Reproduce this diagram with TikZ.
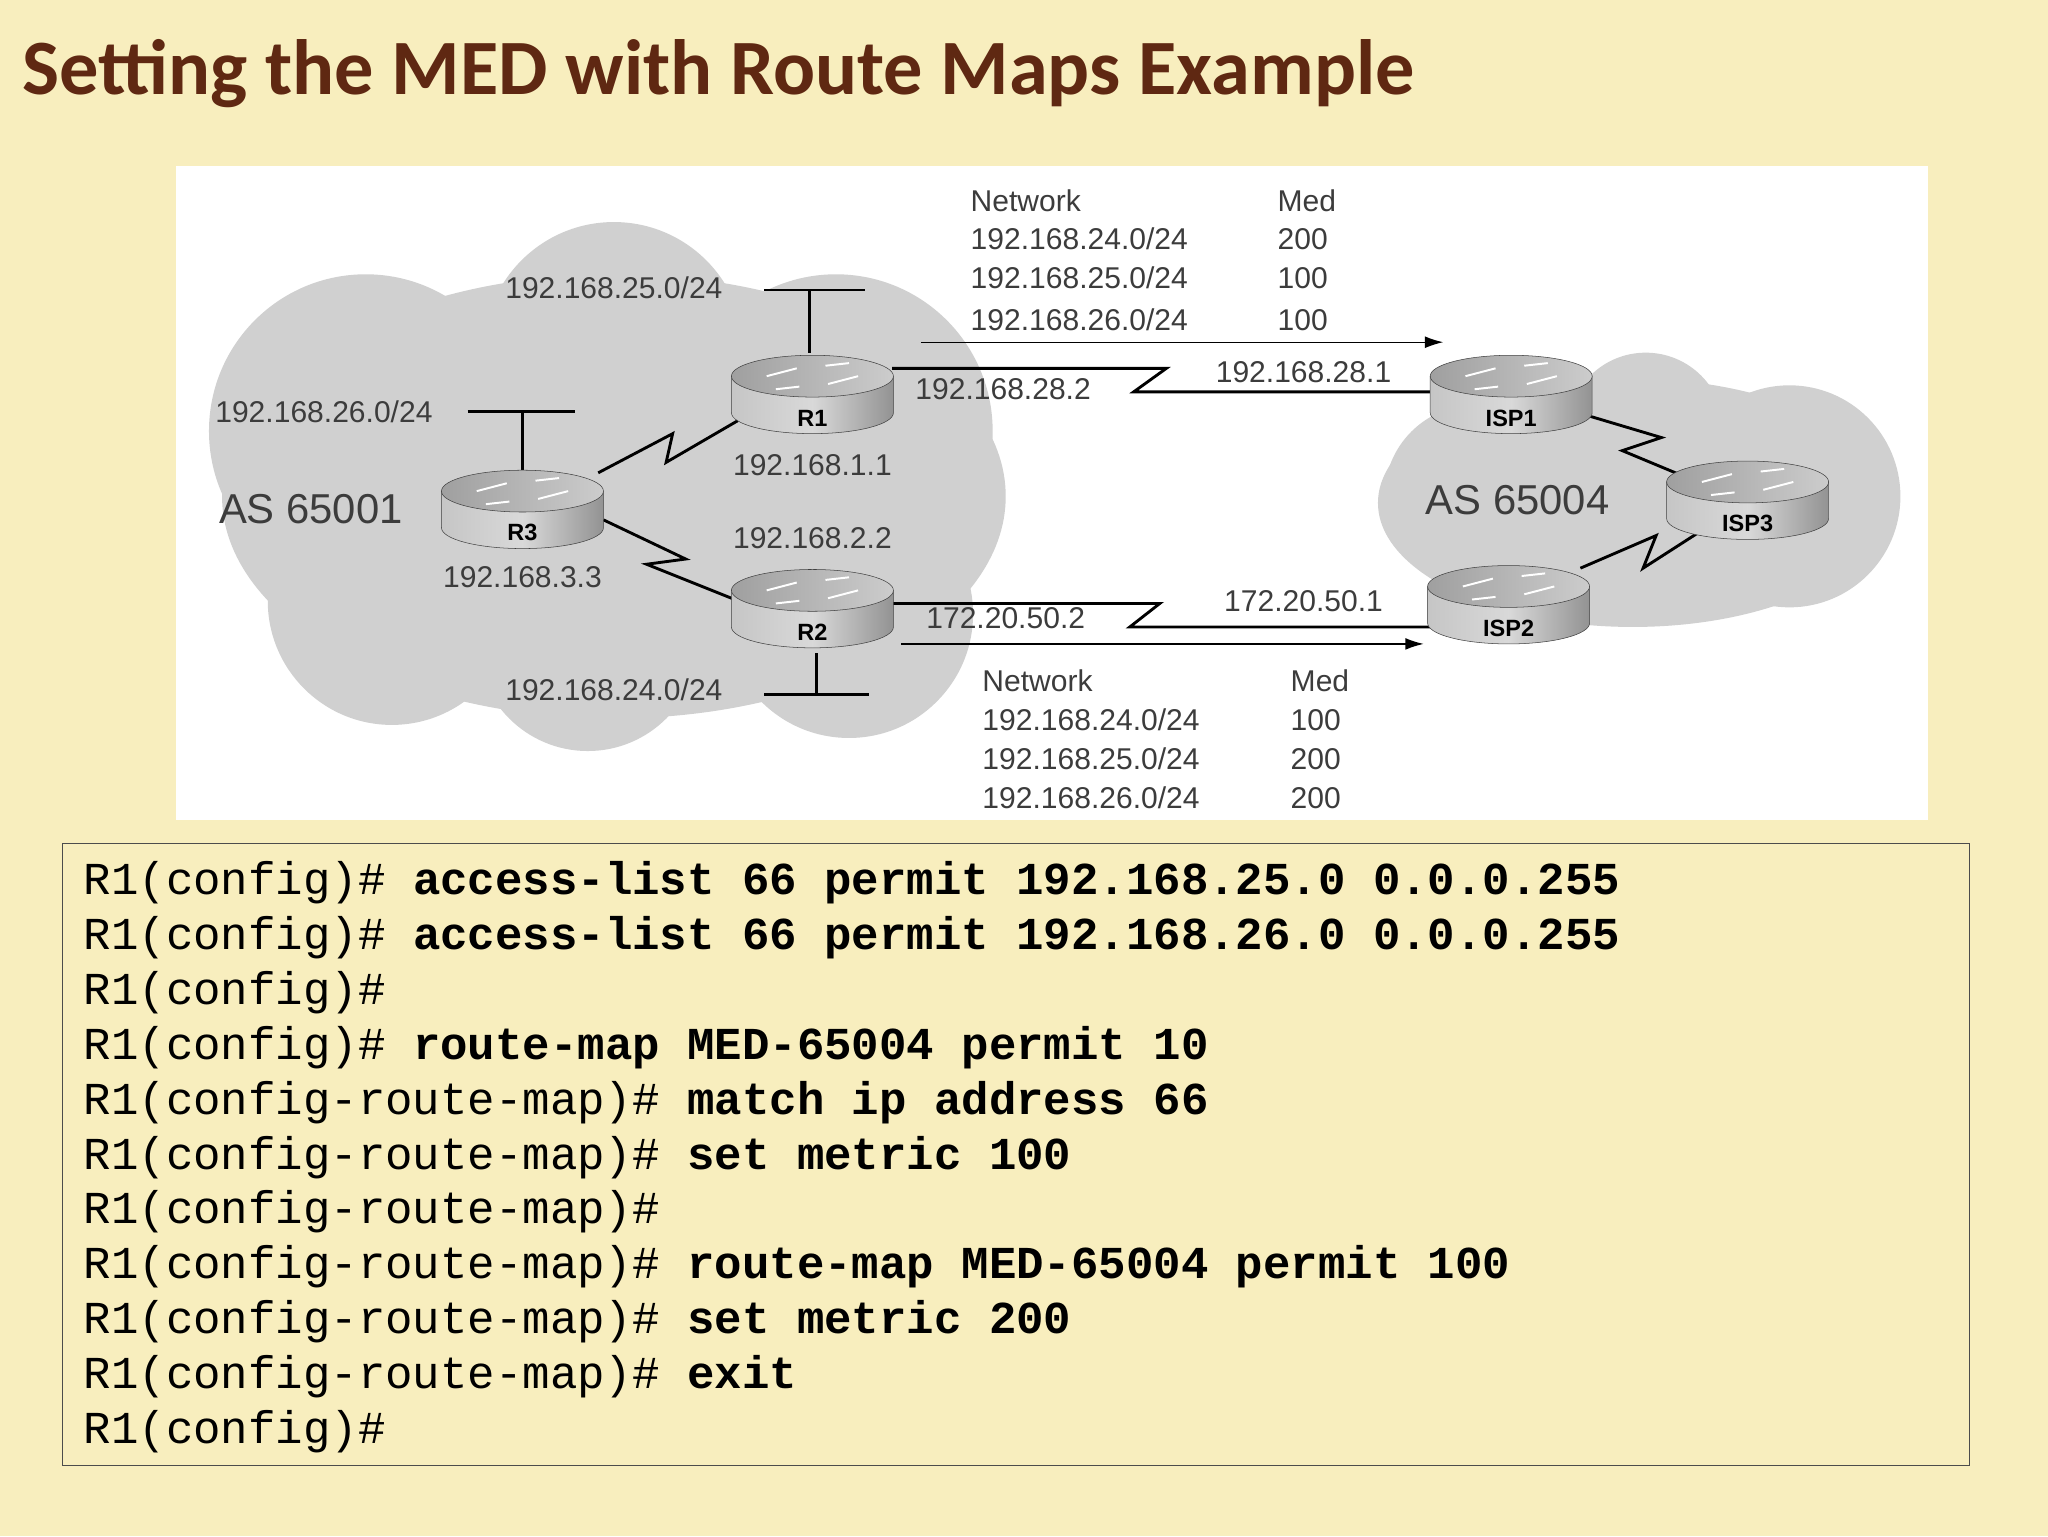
\documentclass[tikz,border=0pt]{standalone}
\usepackage{fontspec}
\setmainfont{Liberation Sans}
\newfontfamily\ttf{Liberation Mono}
\newfontfamily\tit{Carlito}
\usetikzlibrary{shapes.geometric,arrows.meta}
\definecolor{bg}{RGB}{248,238,190}
\definecolor{cl}{RGB}{208,208,208}
\definecolor{tt}{RGB}{95,40,18}
\definecolor{lbl}{RGB}{60,60,60}
\newcommand\myrtr[4]{%
 \shade[left color=gray!45,right color=gray!85,middle color=gray!30,draw=gray!50!black] (#2-62,#3-12) -- (#2-62,#3+16) arc[start angle=180,end angle=0,x radius=62,y radius=16] -- (#2+62,#3-12) -- cycle;
 \shade[left color=gray!75,right color=gray!40,draw=gray!50!black] (#2,#3-12) ellipse (62 and 16);
 \draw[white,line width=1.5pt] (#2-35,#3-12) -- (#2-12,#3-18) (#2+12,#3-6) -- (#2+35,#3-12) (#2-10,#3-4)--(#2-28,#3-2) (#2+10,#3-20)--(#2+28,#3-22);
 \node[rl] (#1) at (#2,#3+20) {#4};}
\begin{document}
\begin{tikzpicture}[x=1pt,y=-1pt,
 lab/.style={font=\fontsize{23}{25}\selectfont,text=lbl,inner sep=0pt},
 labl/.style={lab,anchor=west},
 as/.style={font=\fontsize{32}{34}\selectfont,text=lbl,inner sep=0pt},
 rl/.style={font=\bfseries\fontsize{18}{20}\selectfont,inner sep=0pt},
 ln/.style={line width=2.2pt,black},
 code/.style={anchor=base west,inner sep=0pt,font=\fontsize{35}{37}\selectfont\ttf}]
\useasboundingbox (0,0) rectangle (1568,1176);
\fill[bg] (0,0) rectangle (1568,1176);
\node[anchor=base west,inner sep=0pt,text=tt,font=\tit\bfseries\fontsize{60}{64}\selectfont] (title) at (17,72) {Setting the MED with Route Maps Example};
\fill[white] (135,127) rectangle (1476,628);
% clouds
\fill[cl] (470,380) ellipse (300 and 170);
\fill[cl] (280,330) circle (120);
\fill[cl] (300,460) circle (95);
\fill[cl] (470,270) circle (100);
\fill[cl] (640,330) circle (120);
\fill[cl] (650,470) circle (95);
\fill[cl] (450,490) circle (85);
\fill[cl] (1250,385) ellipse (195 and 95);
\fill[cl] (1130,380) circle (70);
\fill[cl] (1370,380) circle (85);
\fill[cl] (1260,330) circle (60);
% stubs
\draw[ln] (620,270) -- (620,222); \draw[ln] (585,222) -- (662,222);
\draw[ln] (400,360) -- (400,315); \draw[ln] (358,315) -- (440,315);
\draw[ln] (625,500) -- (625,532); \draw[ln] (585,532) -- (665,532);
% links
\draw[ln] (683,282) -- (893,282) -- (868,300) -- (1095,300);
\draw[ln] (683,462) -- (888,462) -- (865,480) -- (1095,480);
\draw[ln] (458,362) -- (515,332) -- (510,354) -- (565,322);
\draw[ln] (462,398) -- (525,428) -- (495,432) -- (565,460);
\draw[ln] (1215,318) -- (1272,335) -- (1242,345) -- (1290,365);
\draw[ln] (1210,435) -- (1268,410) -- (1258,435) -- (1300,408);
\draw[-{Latex[length=14pt,width=9pt]},line width=1pt] (705,262) -- (1105,262);
\draw[-{Latex[length=14pt,width=9pt]},line width=1pt] (690,493) -- (1090,493);
% routers
\myrtr{R1}{622}{300}{R1}
\myrtr{R3}{400}{388}{R3}
\myrtr{R2}{622}{464}{R2}
\myrtr{ISP1}{1157}{300}{ISP1}
\myrtr{ISP2}{1155}{461}{ISP2}
\myrtr{ISP3}{1338}{381}{ISP3}
% labels
\node[lab] at (470,220) {192.168.25.0/24};
\node[lab] at (248,315) {192.168.26.0/24};
\node[as] at (238,390) {AS 65001};
\node[lab] at (400,442) {192.168.3.3};
\node[lab] at (622,356) {192.168.1.1};
\node[lab] at (622,412) {192.168.2.2};
\node[lab] at (470,528) {192.168.24.0/24};
\node[lab] at (768,298) {192.168.28.2};
\node[lab] at (998,285) {192.168.28.1};
\node[lab] at (770,473) {172.20.50.2};
\node[lab] at (998,460) {172.20.50.1};
\node[as] at (1162,383) {AS 65004};
\node[labl] at (743,154) {Network}; \node[labl] at (978,154) {Med};
\node[labl] at (743,183) {192.168.24.0/24}; \node[labl] at (978,183) {200};
\node[labl] at (743,213) {192.168.25.0/24}; \node[labl] at (978,213) {100};
\node[labl] at (743,245) {192.168.26.0/24}; \node[labl] at (978,245) {100};
\node[labl] at (752,521) {Network}; \node[labl] at (988,521) {Med};
\node[labl] at (752,551) {192.168.24.0/24}; \node[labl] at (988,551) {100};
\node[labl] at (752,581) {192.168.25.0/24}; \node[labl] at (988,581) {200};
\node[labl] at (752,611) {192.168.26.0/24}; \node[labl] at (988,611) {200};
% code
\draw[line width=1pt,gray!60!black] (48,646) rectangle (1508,1122);
\node[code] at (64,685) {R1(config)\# \textbf{access-list 66 permit 192.168.25.0 0.0.0.255}};
\node[code] at (64,727) {R1(config)\# \textbf{access-list 66 permit 192.168.26.0 0.0.0.255}};
\node[code] at (64,769) {R1(config)\#};
\node[code] at (64,811) {R1(config)\# \textbf{route-map MED-65004 permit 10}};
\node[code] at (64,853) {R1(config-route-map)\# \textbf{match ip address 66}};
\node[code] at (64,895) {R1(config-route-map)\# \textbf{set metric 100}};
\node[code] at (64,937) {R1(config-route-map)\#};
\node[code] at (64,979) {R1(config-route-map)\# \textbf{route-map MED-65004 permit 100}};
\node[code] at (64,1021) {R1(config-route-map)\# \textbf{set metric 200}};
\node[code] at (64,1063) {R1(config-route-map)\# \textbf{exit}};
\node[code] at (64,1105) {R1(config)\#};
\end{tikzpicture}
\end{document}
